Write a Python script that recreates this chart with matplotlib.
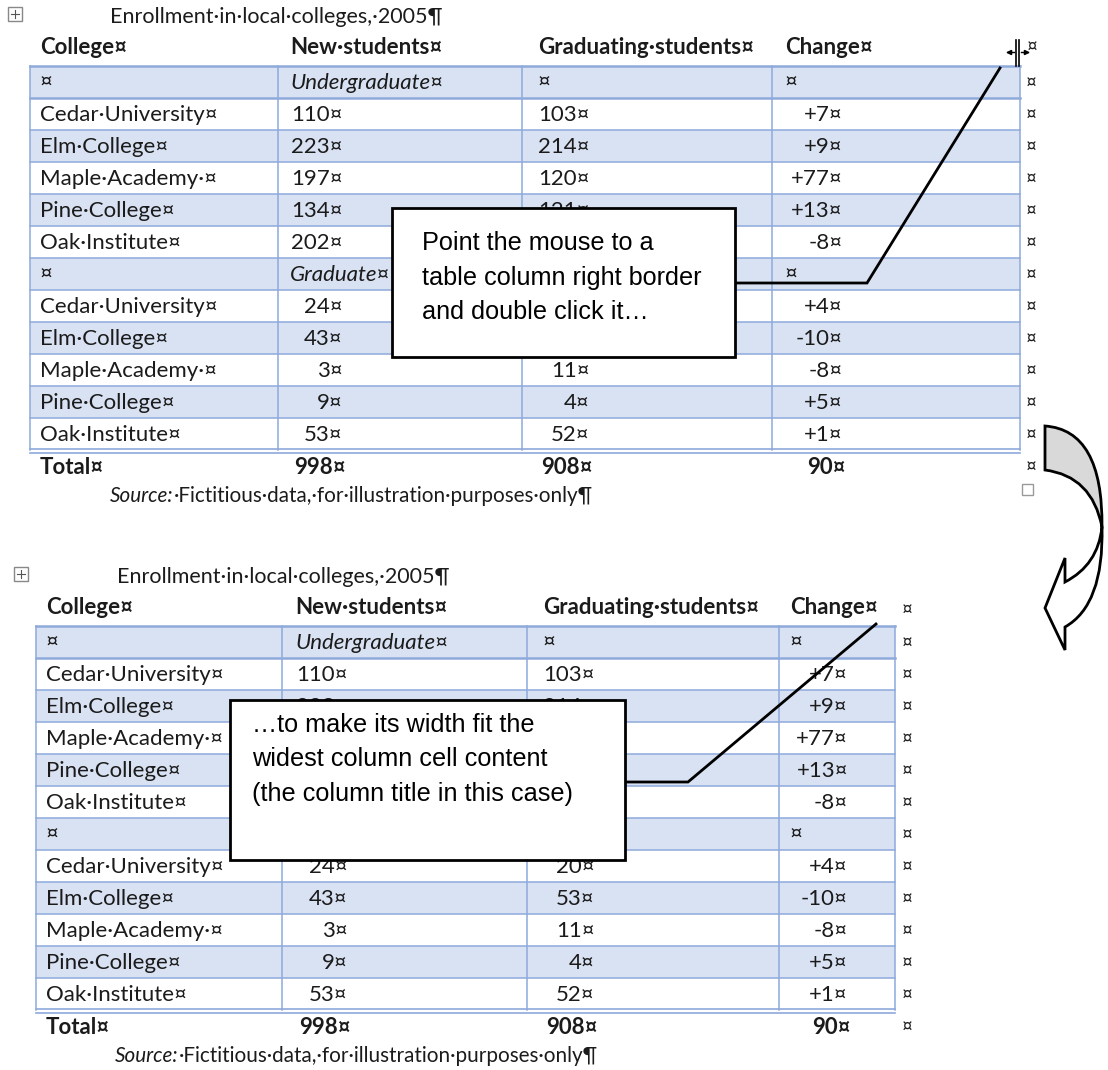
import matplotlib.pyplot as plt
from matplotlib.path import Path
from matplotlib.patches import PathPatch, Rectangle

# table content
colleges = ["Cedar·University¤", "Elm·College¤", "Maple·Academy·¤", "Pine·College¤", "Oak·Institute¤"]
headers = ["College¤", "New·students¤", "Graduating·students¤", "Change¤"]
undergrad_new = [110, 223, 197, 134, 202]
undergrad_grad = [103, 214, 120, 121, 210]
undergrad_change = ["+7", "+9", "+77", "+13", "-8"]
grad_new = [24, 43, 3, 9, 53]
grad_grad = [20, 53, 11, 4, 52]
grad_change = ["+4", "-10", "-8", "+5", "+1"]
totals = ["998", "908", "90"]
title = "Enrollment·in·local·colleges,·2005¶"
note1 = ["Point the mouse to a", "table column right border", "and double click it…"]
note2 = ["…to make its width fit the", "widest column cell content", "(the column title in this case)"]

FONT = "Lato"
FS = 16.0
SHADE = "#D9E2F3"
LINE = "#8EAADB"
INK = "#1b1b1b"

W, H = 1108, 1070
fig = plt.figure(figsize=(W / 100, H / 100), dpi=100)
ax = fig.add_axes([0, 0, 1, 1])
ax.set_xlim(0, W)
ax.set_ylim(H, 0)
ax.axis("off")


def body_rows():
    rows = [("¤", "Undergraduate¤", "¤", "¤", True)]
    for c, n, g, ch in zip(colleges, undergrad_new, undergrad_grad, undergrad_change):
        rows.append((c, f"{n}¤", f"{g}¤", f"{ch}¤", False))
    rows.append(("¤", "Graduate¤", "¤", "¤", True))
    for c, n, g, ch in zip(colleges, grad_new, grad_grad, grad_change):
        rows.append((c, f"{n}¤", f"{g}¤", f"{ch}¤", False))
    return rows


def handle_icon(x, y):
    ax.add_patch(Rectangle((x, y), 14, 14, fill=False, ec="#888888", lw=1))
    ax.plot([x + 3, x + 11], [y + 7, y + 7], color="#555555", lw=0.8)
    ax.plot([x + 7, x + 7], [y + 3, y + 11], color="#555555", lw=0.8)


def draw_table(left, cols, right, head_y, line_y, text_x, anchors, mark_x,
               title_x, source_x, header_mark=True):
    row_h = 32
    handle_icon(left - 22, head_y - 41)
    ax.text(title_x, head_y - 31, title, fontsize=FS * 0.97, family=FONT, color=INK, va="center")
    for x, h in zip(text_x, headers):
        ax.text(x, head_y, h, fontsize=FS, family=FONT, weight="bold", color=INK, va="center")
    if header_mark:
        ax.text(mark_x, head_y + 2, "¤", fontsize=FS * 0.85, family=FONT, color=INK, va="center")

    rows = body_rows()
    edges = [left] + cols + [right]
    for i, r in enumerate(rows):
        y0 = line_y + i * row_h
        yc = y0 + row_h / 2 + 1
        if i % 2 == 0:
            ax.add_patch(Rectangle((left, y0), right - left, row_h, color=SHADE, lw=0, zorder=0))
        ax.text(text_x[0], yc, r[0], fontsize=FS, family=FONT, color=INK, va="center")
        for j in (1, 2, 3):
            if r[j] == "¤" or r[4]:
                style = "italic" if r[4] and j == 1 else "normal"
                ax.text(text_x[j], yc, r[j], fontsize=FS, family=FONT, color=INK,
                        va="center", style=style)
            else:
                ax.text(anchors[j], yc, r[j], fontsize=FS, family=FONT, color=INK,
                        va="center", ha="right")
        ax.text(mark_x, yc, "¤", fontsize=FS * 0.85, family=FONT, color=INK, va="center")
        ax.plot([left, right], [y0, y0], color=LINE, lw=1.8 if i < 2 else 1.1, zorder=1)

    bottom = line_y + len(rows) * row_h
    for x in edges:
        ax.plot([x, x], [line_y, bottom], color=LINE, lw=1.1, zorder=1)
    ax.plot([left, right], [bottom - 1, bottom - 1], color=LINE, lw=1.2, zorder=1)
    ax.plot([left, right], [bottom + 3, bottom + 3], color=LINE, lw=1.2, zorder=1)

    ty = bottom + 17
    ax.text(text_x[0], ty, "Total¤", fontsize=FS, family=FONT, weight="bold", color=INK, va="center")
    for j, t in zip((1, 2, 3), totals):
        ax.text(anchors[j] + 3, ty, t + "¤", fontsize=FS, family=FONT, weight="bold",
                color=INK, va="center", ha="right")
    ax.text(mark_x, ty, "¤", fontsize=FS * 0.85, family=FONT, color=INK, va="center")

    sy = ty + 29
    s1 = ax.text(source_x, sy, "Source:", fontsize=FS * 0.93, family=FONT, style="italic",
                 color=INK, va="center")
    fig.canvas.draw()
    bb = s1.get_window_extent().transformed(ax.transData.inverted())
    ax.text(bb.x1, sy, "·Fictitious·data,·for·illustration·purposes·only¶", fontsize=FS * 0.93,
            family=FONT, color=INK, va="center")
    return bottom


def callout(x0, y0, x1, y1, lines, tx, ty, leader):
    xs, ys = zip(*leader)
    ax.plot(xs, ys, color="black", lw=2, zorder=4, solid_joinstyle="miter")
    ax.add_patch(Rectangle((x0, y0), x1 - x0, y1 - y0, fc="white", ec="black", lw=2, zorder=5))
    for k, line in enumerate(lines):
        ax.text(tx, ty + 34.5 * k, line, fontsize=18.2, family="Liberation Sans", color="black",
                va="center", zorder=6)


# top table: original column widths
draw_table(30, [278, 522, 772], 1020, 48, 66, [40, 290, 538, 785], [None, 343, 590, 843],
           1026, 110, 110, header_mark=False)
# resize cursor at the right border
ax.plot([1016, 1016], [40, 66], color="black", lw=1.2, zorder=7)
ax.plot([1019, 1019], [40, 66], color="black", lw=1.2, zorder=7)
ax.plot([1007, 1014], [52, 52], color="black", lw=1, zorder=7)
ax.plot([1021, 1028], [52, 52], color="black", lw=1, zorder=7)
ax.plot([1009], [52], marker="<", color="black", ms=3, zorder=7)
ax.plot([1026], [52], marker=">", color="black", ms=3, zorder=7)
ax.text(1027, 47, "¤", fontsize=FS * 0.85, family=FONT, color=INK, va="center")
ax.add_patch(Rectangle((1022, 484), 11, 11, fill=False, ec="#999999", lw=1))
callout(392, 208, 735, 357, note1, 422, 243, [(735, 283), (867, 283), (1000, 68)])

# bottom table: last column fitted to its title
draw_table(36, [282, 527, 779], 895, 608, 626, [46, 295, 543, 790], [None, 348, 595, 848],
           902, 117, 115)
callout(230, 700, 625, 860, note2, 252, 725, [(625, 782), (688, 782), (876, 624)])

# curved arrow between the two tables
top_band = Path([(1045, 426), (1103, 430), (1102, 527), (1092, 476), (1045, 470), (1045, 426)],
                [Path.MOVETO, Path.CURVE3, Path.CURVE3, Path.CURVE3, Path.CURVE3, Path.CLOSEPOLY])
ax.add_patch(PathPatch(top_band, fc="#D9D9D9", ec="black", lw=2, zorder=3))
low = Path([(1102, 527), (1104, 605), (1065, 627), (1065, 650), (1045, 608), (1065, 558),
            (1065, 582), (1098, 565), (1102, 527)],
           [Path.MOVETO, Path.CURVE3, Path.CURVE3, Path.LINETO, Path.LINETO, Path.LINETO,
            Path.LINETO, Path.CURVE3, Path.CURVE3])
ax.add_patch(PathPatch(low, fc="white", ec="black", lw=2, zorder=3, joinstyle="miter"))

fig.savefig("out.png", dpi=100)
